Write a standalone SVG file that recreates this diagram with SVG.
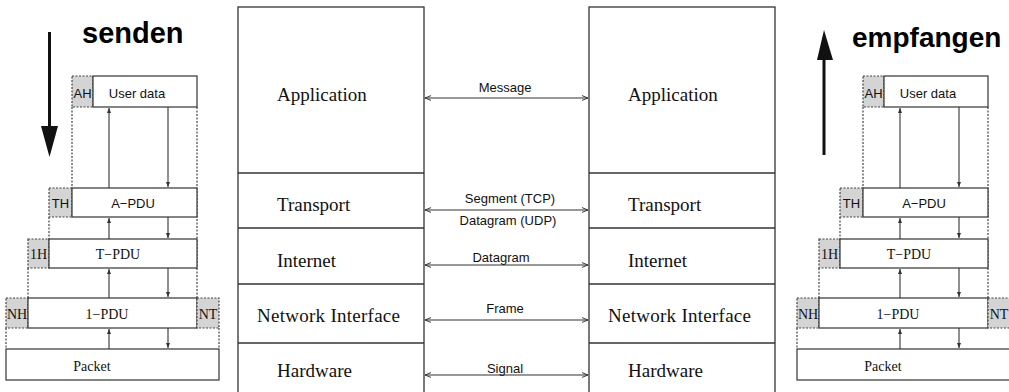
<svg xmlns="http://www.w3.org/2000/svg" width="1009" height="392" viewBox="0 0 1009 392">
<style>
.box{fill:#fff;stroke:#333;stroke-width:1.2}
.hdr{fill:#d4d4d4;stroke:#444;stroke-width:1.2;stroke-dasharray:2 1.5}
.dot{fill:none;stroke:#444;stroke-width:1.2;stroke-dasharray:2 1.5}
.layer{fill:#fff;stroke:#333;stroke-width:1.3}
.div{stroke:#333;stroke-width:1.3}
.conn{stroke:#333;stroke-width:1.2;fill:none}
.v{stroke:#333;stroke-width:1.1;fill:none}
.lt{font-family:"Liberation Serif",serif;font-size:19px;fill:#111}
.ct{font-family:"Liberation Sans",Arial,sans-serif;font-size:13px;fill:#111;text-anchor:middle}
.ss{font-family:"Liberation Sans",Arial,sans-serif;font-size:13px;fill:#111;text-anchor:middle}
.sr{font-family:"Liberation Serif",serif;font-size:14px;fill:#111;text-anchor:middle}
.big{font-family:"Liberation Sans",Arial,sans-serif;font-weight:bold;fill:#000}
</style>
<defs>
<marker id="ah" viewBox="0 0 10 10" refX="10" refY="5" markerWidth="7" markerHeight="6" orient="auto-start-reverse" markerUnits="userSpaceOnUse">
<path d="M0,1 L10,5 L0,9" fill="none" stroke="#333" stroke-width="1.6"/>
</marker>
<marker id="sa" viewBox="0 0 10 10" refX="10" refY="5" markerWidth="6" markerHeight="5" orient="auto" markerUnits="userSpaceOnUse">
<path d="M0,1 L10,5 L0,9 Z" fill="#333"/>
</marker>
</defs>

<!-- big direction arrows -->
<g id="senden">
<line x1="49.5" y1="32" x2="49.5" y2="128" stroke="#111" stroke-width="3"/>
<polygon points="41,126 58,126 49.5,157" fill="#111"/>
<text class="big" x="82" y="43" font-size="29">senden</text>
</g>
<g id="empfangen">
<line x1="824" y1="58" x2="824" y2="155" stroke="#111" stroke-width="3"/>
<polygon points="817,60 833,60 824,30" fill="#111"/>
<text class="big" x="852" y="47" font-size="28">empfangen</text>
</g>

<!-- left protocol stack -->
<g id="stack-left">
<rect class="layer" x="238" y="7" width="186" height="400"/>
<line class="div" x1="238" y1="173" x2="424" y2="173"/>
<line class="div" x1="238" y1="228" x2="424" y2="228"/>
<line class="div" x1="238" y1="284" x2="424" y2="284"/>
<line class="div" x1="238" y1="343" x2="424" y2="343"/>
</g>
<g id="l-application"><text class="lt" x="277" y="101">Application</text></g>
<g id="l-transport"><text class="lt" x="277" y="211">Transport</text></g>
<g id="l-internet"><text class="lt" x="277" y="267">Internet</text></g>
<g id="l-netif"><text class="lt" x="257" y="322" textLength="143">Network Interface</text></g>
<g id="l-hardware"><text class="lt" x="277" y="377">Hardware</text></g>

<!-- right protocol stack -->
<g id="stack-right">
<rect class="layer" x="589" y="7" width="186" height="400"/>
<line class="div" x1="589" y1="173" x2="775" y2="173"/>
<line class="div" x1="589" y1="228" x2="775" y2="228"/>
<line class="div" x1="589" y1="284" x2="775" y2="284"/>
<line class="div" x1="589" y1="343" x2="775" y2="343"/>
</g>
<g id="r-application"><text class="lt" x="628" y="101">Application</text></g>
<g id="r-transport"><text class="lt" x="628" y="211">Transport</text></g>
<g id="r-internet"><text class="lt" x="628" y="267">Internet</text></g>
<g id="r-netif"><text class="lt" x="608" y="322" textLength="143">Network Interface</text></g>
<g id="r-hardware"><text class="lt" x="628" y="377">Hardware</text></g>

<!-- peer connectors -->
<g id="connectors">
<line class="conn" x1="425" y1="98" x2="588" y2="98" marker-start="url(#ah)" marker-end="url(#ah)"/>
<line class="conn" x1="425" y1="210" x2="588" y2="210" marker-start="url(#ah)" marker-end="url(#ah)"/>
<line class="conn" x1="425" y1="265" x2="588" y2="265" marker-start="url(#ah)" marker-end="url(#ah)"/>
<line class="conn" x1="425" y1="320" x2="588" y2="320" marker-start="url(#ah)" marker-end="url(#ah)"/>
<line class="conn" x1="425" y1="375" x2="588" y2="375" marker-start="url(#ah)" marker-end="url(#ah)"/>
<text class="ct" x="505" y="92">Message</text>
<text class="ct" x="510" y="203">Segment (TCP)</text>
<text class="ct" x="508" y="225">Datagram (UDP)</text>
<text class="ct" x="501" y="262">Datagram</text>
<text class="ct" x="505" y="313">Frame</text>
<text class="ct" x="505" y="373">Signal</text>
</g>

<!-- left encapsulation -->
<g id="enc-left">
<g id="L-dots">
<line class="dot" x1="72" y1="107" x2="72" y2="188"/>
<line class="dot" x1="197" y1="107" x2="197" y2="298"/>
<line class="dot" x1="49" y1="217" x2="49" y2="239"/>
<line class="dot" x1="28" y1="268" x2="28" y2="298"/>
<line class="dot" x1="6" y1="328" x2="6" y2="349"/>
<line class="dot" x1="219" y1="328" x2="219" y2="349"/>
</g>
<g id="L-ah"><rect class="hdr" x="72" y="76" width="21" height="31"/><text class="ss" x="82.5" y="98">AH</text></g>
<g id="L-userdata"><rect class="box" x="93" y="76" width="104" height="31"/><text class="ss" x="137" y="98">User data</text></g>
<g id="L-th"><rect class="hdr" x="49" y="188" width="23" height="29"/><text class="ss" x="60.5" y="208">TH</text></g>
<g id="L-apdu"><rect class="box" x="72" y="188" width="125" height="29"/><text class="ss" x="133" y="208">A−PDU</text></g>
<g id="L-1h"><rect class="hdr" x="28" y="239" width="21" height="29"/><text class="sr" x="38.5" y="259">1H</text></g>
<g id="L-tpdu"><rect class="box" x="49" y="239" width="148" height="29"/><text class="sr" x="118" y="259">T−PDU</text></g>
<g id="L-nh"><rect class="hdr" x="6" y="298" width="22" height="30"/><text class="sr" x="17" y="319">NH</text></g>
<g id="L-1pdu"><rect class="box" x="28" y="298" width="169" height="30"/><text class="sr" x="107" y="319">1−PDU</text></g>
<g id="L-nt"><rect class="hdr" x="197" y="298" width="22" height="30"/><text class="sr" x="208" y="319">NT</text></g>
<g id="L-packet"><rect class="box" x="6" y="349" width="213" height="31"/><text class="sr" x="92" y="371">Packet</text></g>
<g id="L-arrows">
<line class="v" x1="109" y1="188" x2="109" y2="108" marker-end="url(#sa)"/>
<line class="v" x1="168" y1="107" x2="168" y2="187" marker-end="url(#sa)"/>
<line class="v" x1="109" y1="239" x2="109" y2="218" marker-end="url(#sa)"/>
<line class="v" x1="168" y1="217" x2="168" y2="238" marker-end="url(#sa)"/>
<line class="v" x1="109" y1="298" x2="109" y2="269" marker-end="url(#sa)"/>
<line class="v" x1="168" y1="268" x2="168" y2="297" marker-end="url(#sa)"/>
<line class="v" x1="109" y1="349" x2="109" y2="329" marker-end="url(#sa)"/>
<line class="v" x1="168" y1="328" x2="168" y2="348" marker-end="url(#sa)"/>
</g>
</g>

<!-- right encapsulation -->
<g id="enc-right" transform="translate(791,0)">
<g id="R-dots">
<line class="dot" x1="72" y1="107" x2="72" y2="188"/>
<line class="dot" x1="197" y1="107" x2="197" y2="298"/>
<line class="dot" x1="49" y1="217" x2="49" y2="239"/>
<line class="dot" x1="28" y1="268" x2="28" y2="298"/>
<line class="dot" x1="6" y1="328" x2="6" y2="349"/>
<line class="dot" x1="219" y1="328" x2="219" y2="349"/>
</g>
<g id="R-ah"><rect class="hdr" x="72" y="76" width="21" height="31"/><text class="ss" x="82.5" y="98">AH</text></g>
<g id="R-userdata"><rect class="box" x="93" y="76" width="104" height="31"/><text class="ss" x="137" y="98">User data</text></g>
<g id="R-th"><rect class="hdr" x="49" y="188" width="23" height="29"/><text class="ss" x="60.5" y="208">TH</text></g>
<g id="R-apdu"><rect class="box" x="72" y="188" width="125" height="29"/><text class="ss" x="133" y="208">A−PDU</text></g>
<g id="R-1h"><rect class="hdr" x="28" y="239" width="21" height="29"/><text class="sr" x="38.5" y="259">1H</text></g>
<g id="R-tpdu"><rect class="box" x="49" y="239" width="148" height="29"/><text class="sr" x="118" y="259">T−PDU</text></g>
<g id="R-nh"><rect class="hdr" x="6" y="298" width="22" height="30"/><text class="sr" x="17" y="319">NH</text></g>
<g id="R-1pdu"><rect class="box" x="28" y="298" width="169" height="30"/><text class="sr" x="107" y="319">1−PDU</text></g>
<g id="R-nt"><rect class="hdr" x="197" y="298" width="22" height="30"/><text class="sr" x="208" y="319">NT</text></g>
<g id="R-packet"><rect class="box" x="6" y="349" width="213" height="31"/><text class="sr" x="92" y="371">Packet</text></g>
<g id="R-arrows">
<line class="v" x1="109" y1="188" x2="109" y2="108" marker-end="url(#sa)"/>
<line class="v" x1="168" y1="107" x2="168" y2="187" marker-end="url(#sa)"/>
<line class="v" x1="109" y1="239" x2="109" y2="218" marker-end="url(#sa)"/>
<line class="v" x1="168" y1="217" x2="168" y2="238" marker-end="url(#sa)"/>
<line class="v" x1="109" y1="298" x2="109" y2="269" marker-end="url(#sa)"/>
<line class="v" x1="168" y1="268" x2="168" y2="297" marker-end="url(#sa)"/>
<line class="v" x1="109" y1="349" x2="109" y2="329" marker-end="url(#sa)"/>
<line class="v" x1="168" y1="328" x2="168" y2="348" marker-end="url(#sa)"/>
</g>
</g>
</svg>
